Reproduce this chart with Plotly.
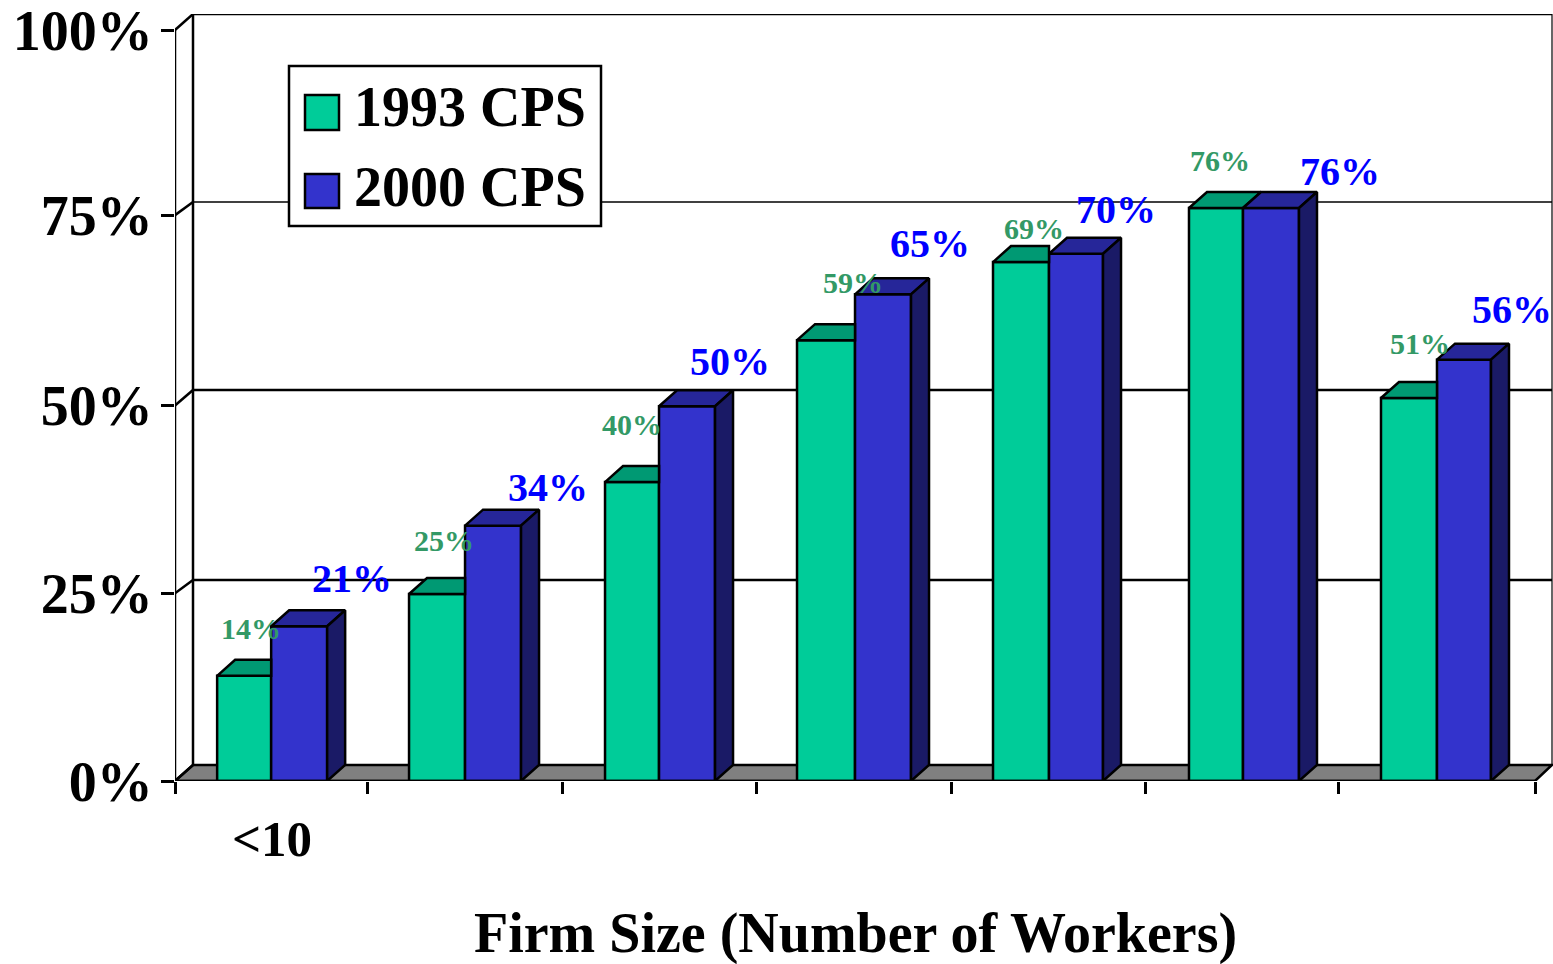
import plotly.graph_objects as go

# ---------- data ----------
categories = ["<10", "", "", "", "", "", ""]
series_1993 = [14.0, 24.9, 39.8, 58.7, 69.1, 76.3, 51.0]
series_2000 = [20.6, 34.0, 49.9, 64.8, 70.2, 76.3, 56.1]
labels_1993 = ["14%", "25%", "40%", "59%", "69%", "76%", "51%"]
labels_2000 = ["21%", "34%", "50%", "65%", "70%", "76%", "56%"]
y_ticks = [0, 25, 50, 75.35, 100]
y_tick_text = ["0%", "25%", "50%", "75%", "100%"]
back_wall_levels = [2.13, 26.76, 52.06, 77.1, 102.13]

# label offsets from the bar's top centre, px
shift_1993_x = [7, 7, 0, 27, 13, 4, 11]
shift_1993_y = [47.5, 53.5, 57.5, 57.5, 33.5, 47.5, 54.5]
shift_2000_x = [53, 55, 43, 47, 40, 69, 48.5]
shift_2000_y = [47.5, 38.5, 44.5, 50.5, 44.5, 36.5, 50.5]

# per-group drawing geometry, px
group_shift = [-1, -1.4, -1.7, 0, -0.3, -0.6, -0.9]
left_width = [54, 56, 54, 58, 56, 54, 56]
right_width = [56, 56, 56, 56, 54, 56, 54]
tick_shift = [0, -2, -1, -1, -1, -1, -2, 0]

# ---------- geometry (style) ----------
W, H = 1553, 964
L, R, T, B = 175, 1553, 14, 781
PX_X = 194.29      # px per category
PX_Y = 7.51        # px per 1%
DX = 18 / PX_X     # depth offset in x units
DY = 16 / PX_Y     # depth offset in y units
XMAX = (R - L) / PX_X
XBACK = (R - 1 - L) / PX_X
YMAX = (B - T) / PX_Y
N = len(categories)
centers = [i + 0.5 + s / PX_X for i, s in enumerate(group_shift)]
w1 = [v / PX_X for v in left_width]
w2 = [v / PX_X for v in right_width]

GREEN, GREEN_TOP = "#00CC99", "#009973"
BLUE, BLUE_TOP, BLUE_SIDE = "#3333CC", "#262699", "#1A1A66"
SERIF = "Liberation Serif"
LW = 2.5


def px(x):
    return (x - L) / (R - L)


def py(y):
    return (B - y) / (B - T)


fig = go.Figure()

# fronts
fig.add_trace(go.Bar(x=centers, y=series_1993, name="1993 CPS", offset=[-v for v in w1], width=w1,
                     marker=dict(color=GREEN, line=dict(color="black", width=LW)),
                     hoverinfo="skip", showlegend=False))
fig.add_trace(go.Bar(x=centers, y=series_2000, name="2000 CPS", offset=0, width=w2,
                     marker=dict(color=BLUE, line=dict(color="black", width=LW)),
                     hoverinfo="skip", showlegend=False))


def poly(xs, ys, fill):
    fig.add_trace(go.Scatter(x=xs, y=ys, mode="lines", fill="toself", fillcolor=fill,
                             line=dict(color="black", width=LW), cliponaxis=False,
                             hoverinfo="skip", showlegend=False))


def edge(xs, ys, width=LW):
    fig.add_trace(go.Scatter(x=xs, y=ys, mode="lines", line=dict(color="black", width=width),
                             cliponaxis=False, hoverinfo="skip", showlegend=False))


# tops and sides
for c, a, b, wa, wb in zip(centers, series_1993, series_2000, w1, w2):
    x0 = c - wa
    x1 = c + wb
    if a < b:
        poly([x0, x0 + DX, c, c, x0], [a, a + DY, a + DY, a, a], GREEN_TOP)
    else:
        poly([x0, x0 + DX, c + DX, c, x0], [a, a + DY, a + DY, a, a], GREEN_TOP)
    poly([c, c + DX, x1 + DX, x1, c], [b, b + DY, b + DY, b, b], BLUE_TOP)
    poly([x1, x1 + DX, x1 + DX, x1, x1], [0, DY, b + DY, b, 0], BLUE_SIDE)

shapes = []
floor_y = back_wall_levels[0]
# floor
shapes.append(dict(type="path", layer="below", xref="x", yref="y",
                   path=f"M0,0 L{DX},{floor_y} L{XBACK},{floor_y} L{N},0 Z",
                   fillcolor="#808080", line=dict(color="black", width=LW)))
# back wall edge behind the bars
shapes.append(dict(type="line", layer="below", xref="x", yref="y", x0=DX, y0=floor_y, x1=DX, y1=back_wall_levels[-1],
                   line=dict(color="black", width=LW)))
# back gridlines
for v in back_wall_levels[1:-1]:
    w = 1.5 if v == back_wall_levels[3] else LW
    shapes.append(dict(type="line", layer="below", xref="x", yref="y", x0=DX, y0=v, x1=XBACK, y1=v,
                       line=dict(color="black", width=w)))

# unclipped edges of the walls and floor
edge([0, 0], [0, 100])
edge([0, N], [0, 0])
edge([DX, XBACK], [back_wall_levels[-1]] * 2)
edge([XBACK, XBACK], [floor_y, back_wall_levels[-1]], 1.2)
for front, back in zip(y_ticks, back_wall_levels):
    edge([0, DX], [front, back])

# legend
shapes.append(dict(type="rect", xref="paper", yref="paper", x0=px(289), x1=px(601), y0=py(226), y1=py(66),
                   fillcolor="white", line=dict(color="black", width=LW), layer="above"))
shapes.append(dict(type="rect", xref="paper", yref="paper", x0=px(305), x1=px(339), y0=py(130), y1=py(95),
                   fillcolor=GREEN, line=dict(color="black", width=LW), layer="above"))
shapes.append(dict(type="rect", xref="paper", yref="paper", x0=px(305), x1=px(339), y0=py(208), y1=py(174),
                   fillcolor=BLUE, line=dict(color="black", width=LW), layer="above"))

annotations = []
for name, yc in [("1993 CPS", 107), ("2000 CPS", 187)]:
    annotations.append(dict(xref="paper", yref="paper", x=px(352), y=py(yc), text=f"<b>{name}</b>",
                            showarrow=False, xanchor="left", yanchor="middle",
                            font=dict(family=SERIF, size=56, color="black")))

# data labels
for c, wa, a, t, sx, sy in zip(centers, w1, series_1993, labels_1993, shift_1993_x, shift_1993_y):
    annotations.append(dict(x=c - wa / 2, y=a, text=f"<b>{t}</b>", showarrow=False, xshift=sx, yshift=sy,
                            xanchor="center", yanchor="middle",
                            font=dict(family=SERIF, size=30, color="#339966")))
for c, wb, b, t, sx, sy in zip(centers, w2, series_2000, labels_2000, shift_2000_x, shift_2000_y):
    annotations.append(dict(x=c + wb / 2, y=b, text=f"<b>{t}</b>", showarrow=False, xshift=sx, yshift=sy,
                            xanchor="center", yanchor="middle",
                            font=dict(family=SERIF, size=40, color="#0000FF")))

# axis title
annotations.append(dict(xref="paper", yref="paper", x=px(855), y=py(933),
                        text="<b>Firm Size (Number of Workers)</b>", showarrow=False,
                        xanchor="center", yanchor="middle",
                        font=dict(family=SERIF, size=56, color="black")))

fig.update_layout(
    width=W, height=H, margin=dict(l=L, r=W - R, t=T, b=H - B),
    paper_bgcolor="white", plot_bgcolor="white", barmode="overlay",
    showlegend=False, shapes=shapes, annotations=annotations,
    xaxis=dict(range=[0, XMAX], showgrid=False, zeroline=False, showline=False,
               tickmode="array", tickvals=[i + s / PX_X for i, s in enumerate(tick_shift)],
               ticktext=[f"<b>{t}</b>" if t else "" for t in categories] + [""],
               ticks="outside", ticklen=12, tickwidth=LW, tickcolor="black",
               ticklabelshift=97, ticklabelstandoff=1,
               tickfont=dict(family=SERIF, size=51, color="black")),
    yaxis=dict(range=[0, YMAX], showgrid=False, zeroline=False, showline=False,
               tickmode="array", tickvals=y_ticks, ticktext=[f"<b>{t}</b>" for t in y_tick_text],
               ticks="outside", ticklen=13, tickwidth=LW, tickcolor="black",
               ticklabelstandoff=-3, ticklabeloverflow="allow",
               tickfont=dict(family=SERIF, size=56, color="black")),
)

fig.write_html("out.html", config=dict(displayModeBar=False),
               post_script="document.body.style.margin='0';document.documentElement.style.overflow='hidden';")
